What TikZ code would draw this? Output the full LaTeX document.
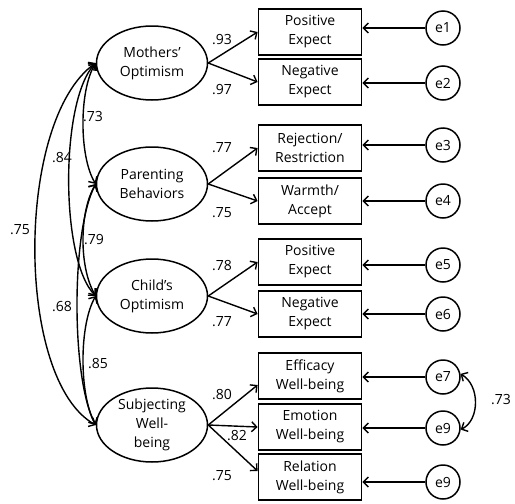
\documentclass[tikz,border=0pt]{standalone}
\usepackage{fontspec}
\setmainfont{Open Sans}
\usepackage{tikz}
\usetikzlibrary{shapes.geometric}
\usetikzlibrary{arrows.meta}

\tikzset{
	latent/.style={draw, ellipse, line width=1.5pt, minimum width=111pt, minimum height=74pt, inner sep=0pt, align=center},
	indic/.style={draw, rectangle, line width=1.8pt, minimum width=103pt, minimum height=46pt, inner sep=0pt, align=center},
	resid/.style={draw, circle, line width=1.5pt, minimum size=34pt, inner sep=0pt},
	load/.style={-{Straight Barb[length=5pt,width=10pt]}, line width=1.4pt},
	cov/.style={{Straight Barb[length=5pt,width=10pt]}-{Straight Barb[length=5pt,width=10pt]}, line width=1.4pt},
	coef/.style={inner sep=0pt}
}

\begin{document}
\begin{tikzpicture}[x=1pt, y=-1pt, font=\fontsize{14}{19}\selectfont]
	\useasboundingbox (0,0) rectangle (515,504);
	\node[latent] (mo) at (152,63) {Mothers’\\Optimism};
	\node[latent] (pb) at (152,184) {Parenting\\Behaviors};
	\node[latent] (co) at (152,296) {Child’s\\Optimism};
	\node[latent] (sw) at (152,425) {Subjecting\\Well-\\being};
	\foreach \n/\y/\txt in {1/32/{Positive\\Expect}, 2/82/{Negative\\Expect},
		3/148/{Rejection/\\Restriction}, 4/201/{Warmth/\\Accept},
		5/262/{Positive\\Expect}, 6/314/{Negative\\Expect},
		7/376/{Efficacy\\Well-being}, 8/427/{Emotion\\Well-being}, 9/477/{Relation\\Well-being}}
		\node[indic] (b\n) at (310,\y) {\txt};
	\foreach \n/\y/\txt in {1/28/e1, 2/83/e2, 3/145/e3, 4/201/e4, 5/265/e5,
		6/314/e6, 7/377/e7, 8/428/e9, 9/482/e9}
		\node[resid] (e\n) at (443,\y) {\txt};
	\foreach \n in {1,...,9}
		\draw[load] (e\n.west) -- (e\n.west -| b\n.east);
	\draw[load] (mo.east) -- (b1.west);
	\draw[load] (mo.east) -- (b2.west);
	\draw[load] (pb.east) -- (b3.west);
	\draw[load] (pb.east) -- (b4.west);
	\draw[load] (co.east) -- (b5.west);
	\draw[load] (co.east) -- (b6.west);
	\draw[load] (sw.east) -- ([yshift=-9pt]b7.west);
	\draw[load] (sw.east) -- (b8.west);
	\draw[load] (sw.east) -- ([yshift=6pt]b9.west);
	\draw[cov] (mo.west) .. controls (79,90) and (79,157) .. (pb.west);
	\draw[cov] (mo.west) .. controls (60,100) and (60,260) .. (co.west);
	\draw[cov] (mo.west) .. controls (15,120) and (15,380) .. (sw.west);
	\draw[cov] (pb.west) .. controls (79,212) and (79,268) .. (co.west);
	\draw[cov] (pb.west) .. controls (71,230) and (71,380) .. (sw.west);
	\draw[cov] (co.west) .. controls (79,325) and (79,395) .. (sw.west);
	\draw[cov] (e7.10) .. controls (480,385) and (480,420) .. (e8.-5);
	\foreach \x/\y/\v [count=\i] in {222/40/.93, 222/90/.97, 222/148/.77, 222/213/.75,
		222/266/.78, 222/322/.77, 222/395/.80, 237/436/.82, 222/476/.75,
		93/117/.73, 62/158/.84, 20/230/.75, 94/240/.79, 62/307/.68, 98/364/.85, 501/400/.73}
		\node[coef] (c\i) at (\x,\y) {\v};
\end{tikzpicture}
\end{document}
